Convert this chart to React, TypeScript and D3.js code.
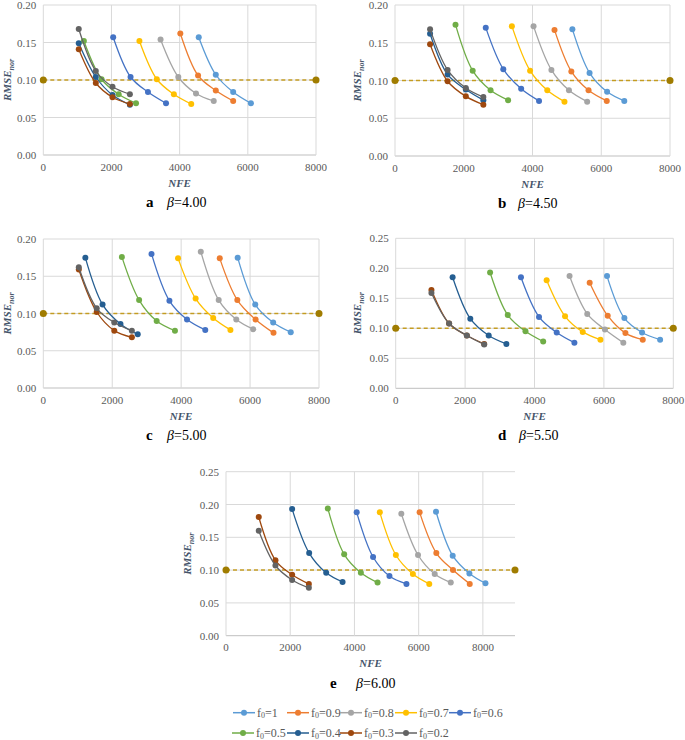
import React from "react";
import * as d3 from "d3";

const seriesLabels = ["1", "0.9", "0.8", "0.7", "0.6", "0.5", "0.4", "0.3", "0.2"];
const seriesColors = ["#5B9BD5", "#ED7D31", "#A5A5A5", "#FFC000", "#4472C4", "#70AD47", "#255E91", "#9E480E", "#636363"];

// Panel a (beta = 4.00)
const nfeA = [
  [4560, 5060, 5570, 6090], [4020, 4540, 5060, 5570], [3440, 3960, 4480, 5000],
  [2820, 3330, 3830, 4340], [2050, 2560, 3070, 3600], [1190, 1710, 2210, 2720],
  [1040, 1540, 2030, 2540], [1040, 1540, 2030, 2540], [1040, 1540, 2030, 2540],
];
const rmseA = [
  [0.157, 0.107, 0.084, 0.069], [0.162, 0.106, 0.086, 0.072], [0.154, 0.104, 0.082, 0.072],
  [0.152, 0.101, 0.081, 0.068], [0.157, 0.104, 0.084, 0.069], [0.152, 0.101, 0.081, 0.069],
  [0.149, 0.104, 0.080, 0.067], [0.141, 0.096, 0.077, 0.068], [0.168, 0.112, 0.091, 0.081],
];
// Panel b (beta = 4.50)
const nfeB = [
  [5160, 5660, 6170, 6670], [4640, 5130, 5630, 6160], [4030, 4550, 5060, 5590],
  [3400, 3930, 4430, 4930], [2640, 3150, 3670, 4190], [1760, 2260, 2780, 3290],
  [1020, 1530, 2060, 2570], [1020, 1530, 2060, 2570], [1020, 1530, 2060, 2570],
];
const rmseB = [
  [0.168, 0.110, 0.085, 0.073], [0.167, 0.112, 0.087, 0.073], [0.172, 0.114, 0.087, 0.072],
  [0.172, 0.113, 0.087, 0.072], [0.170, 0.115, 0.089, 0.073], [0.174, 0.113, 0.087, 0.074],
  [0.162, 0.108, 0.088, 0.074], [0.148, 0.099, 0.079, 0.068], [0.168, 0.114, 0.090, 0.078],
];
// Panel c (beta = 5.00)
const nfeC = [
  [5640, 6150, 6670, 7180], [5120, 5630, 6160, 6680], [4570, 5090, 5600, 6090],
  [3910, 4420, 4930, 5430], [3140, 3660, 4170, 4700], [2280, 2780, 3290, 3820],
  [1220, 1720, 2240, 2740], [1030, 1550, 2060, 2570], [1030, 1550, 2060, 2570],
];
const rmseC = [
  [0.175, 0.112, 0.088, 0.075], [0.174, 0.118, 0.092, 0.074], [0.183, 0.118, 0.092, 0.079],
  [0.174, 0.120, 0.094, 0.078], [0.180, 0.117, 0.092, 0.078], [0.176, 0.118, 0.090, 0.077],
  [0.175, 0.112, 0.086, 0.072], [0.159, 0.102, 0.077, 0.068], [0.162, 0.107, 0.088, 0.077],
];
// Panel d (beta = 5.50)
const nfeD = [
  [6090, 6590, 7100, 7620], [5590, 6110, 6620, 7120], [5010, 5520, 6030, 6560],
  [4350, 4880, 5390, 5900], [3610, 4130, 4640, 5150], [2720, 3230, 3740, 4250],
  [1640, 2150, 2680, 3190], [1030, 1540, 2050, 2550], [1030, 1540, 2050, 2550],
];
const rmseD = [
  [0.187, 0.117, 0.093, 0.081], [0.176, 0.121, 0.092, 0.081], [0.187, 0.124, 0.098, 0.076],
  [0.180, 0.120, 0.094, 0.081], [0.185, 0.119, 0.093, 0.076], [0.193, 0.122, 0.095, 0.078],
  [0.185, 0.116, 0.088, 0.074], [0.164, 0.108, 0.088, 0.074], [0.159, 0.108, 0.088, 0.073],
];
// Panel e (beta = 6.00)
const nfeE = [
  [6540, 7060, 7580, 8080], [6030, 6550, 7070, 7590], [5460, 5980, 6500, 7000],
  [4790, 5290, 5820, 6330], [4070, 4580, 5090, 5620], [3170, 3680, 4200, 4720],
  [2060, 2590, 3120, 3630], [1020, 1540, 2060, 2580], [1020, 1540, 2060, 2580],
];
const rmseE = [
  [0.189, 0.122, 0.095, 0.080], [0.188, 0.126, 0.100, 0.079], [0.186, 0.123, 0.094, 0.081],
  [0.188, 0.123, 0.094, 0.079], [0.188, 0.120, 0.091, 0.079], [0.194, 0.124, 0.096, 0.081],
  [0.193, 0.126, 0.096, 0.082], [0.181, 0.115, 0.093, 0.079], [0.160, 0.107, 0.085, 0.073],
];

const threshold = 0.1;
const xTicks = [0, 2000, 4000, 6000, 8000];

const FONT = "'Liberation Serif', 'Times New Roman', serif";
const AXIS_TITLE = "#44546A";
const TICK = "#595959";
const GRID = "#D9D9D9";

type PanelProps = {
  nfe: number[][];
  rmse: number[][];
  x0: number; x1: number; yTop: number; yBot: number;
  xMax: number; yMax: number;
  ylabX: number;
  letter: string; beta: string; letterX: number; betaX: number;
};

function Panel(p: PanelProps) {
  const x = d3.scaleLinear().domain([0, p.xMax]).range([p.x0, p.x1]);
  const y = d3.scaleLinear().domain([0, p.yMax]).range([p.yBot, p.yTop]);
  const yTicks = d3.range(0, p.yMax + 1e-9, 0.05);
  const line = d3.line<[number, number]>().x(d => x(d[0])).y(d => y(d[1])).curve(d3.curveCatmullRom.alpha(0.5));
  const fmt = d3.format(".2f");
  const midY = (p.yTop + p.yBot) / 2;
  return (
    <g>
      {yTicks.map(t => (
        <line key={"h" + t} x1={p.x0} x2={p.x1} y1={y(t)} y2={y(t)} stroke={t === 0 ? "#BFBFBF" : GRID} strokeWidth={1} />
      ))}
      {xTicks.map(t => (
        <line key={"v" + t} x1={x(t)} x2={x(t)} y1={p.yTop} y2={p.yBot} stroke={GRID} strokeWidth={1} />
      ))}
      {yTicks.map(t => (
        <text key={"yt" + t} x={p.x0 - 7} y={y(t) + 4} textAnchor="end" fontSize={11} fill={TICK} fontFamily={FONT}>{fmt(t)}</text>
      ))}
      {xTicks.map(t => (
        <text key={"xt" + t} x={x(t)} y={p.yBot + 15.5} textAnchor="middle" fontSize={11} fill={TICK} fontFamily={FONT}>{t}</text>
      ))}
      <text x={(p.x0 + p.x1) / 2} y={p.yBot + 31.5} textAnchor="middle" fontSize={11} fontStyle="italic" fontWeight="bold" fill={AXIS_TITLE} fontFamily={FONT}>NFE</text>
      <text transform={`translate(${p.ylabX + 4},${midY}) rotate(-90)`} textAnchor="middle" fontSize={11} fontStyle="italic" fontWeight="bold" fill={AXIS_TITLE} fontFamily={FONT}>
        RMSE<tspan fontSize={8} dy={3}>nor</tspan>
      </text>
      <line x1={x(0)} x2={x(p.xMax)} y1={y(threshold)} y2={y(threshold)} stroke="#BF9000" strokeOpacity={0.85} strokeWidth={1.5} strokeDasharray="4 3" />
      <circle cx={x(0)} cy={y(threshold)} r={3.5} fill="#A07C00" />
      <circle cx={x(p.xMax)} cy={y(threshold)} r={3.5} fill="#A07C00" />
      {p.nfe.map((xs, i) => {
        const pts: [number, number][] = xs.map((v, j) => [v, p.rmse[i][j]]);
        return (
          <g key={"s" + i}>
            <path d={line(pts) || ""} fill="none" stroke={seriesColors[i]} strokeWidth={1.3} />
            {pts.map((d, j) => (
              <circle key={j} cx={x(d[0])} cy={y(d[1])} r={3} fill={seriesColors[i]} />
            ))}
          </g>
        );
      })}
      <text y={p.yBot + 52} fontFamily={FONT} fill="#000">
        <tspan x={p.letterX} fontWeight="bold" fontSize={15}>{p.letter}</tspan>
        <tspan x={p.betaX} fontStyle="italic" fontSize={14}>β</tspan>
        <tspan fontSize={14}>={p.beta}</tspan>
      </text>
    </g>
  );
}

const legendRow1X = [233, 287, 340, 395, 449];
const legendRow2X = [232, 287, 340, 395];

export default function App() {
  return (
    <svg width={685} height={740} style={{ position: "absolute", left: 0, top: 0, background: "#fff" }}>
      <rect width={685} height={740} fill="#fff" />
      <Panel nfe={nfeA} rmse={rmseA} x0={43.3} x1={316} yTop={5} yBot={155} xMax={8000} yMax={0.2} ylabX={7} letter="a" beta="4.00" letterX={146} betaX={167} />
      <Panel nfe={nfeB} rmse={rmseB} x0={395} x1={670} yTop={5} yBot={156} xMax={8000} yMax={0.2} ylabX={357} letter="b" beta="4.50" letterX={498} betaX={518} />
      <Panel nfe={nfeC} rmse={rmseC} x0={43.3} x1={319} yTop={239} yBot={388} xMax={8000} yMax={0.2} ylabX={7} letter="c" beta="5.00" letterX={146} betaX={167} />
      <Panel nfe={nfeD} rmse={rmseD} x0={395.7} x1={673.3} yTop={238.3} yBot={388.3} xMax={8000} yMax={0.25} ylabX={357} letter="d" beta="5.50" letterX={498} betaX={519} />
      <Panel nfe={nfeE} rmse={rmseE} x0={226} x1={515} yTop={471.7} yBot={635.7} xMax={9000} yMax={0.25} ylabX={187} letter="e" beta="6.00" letterX={330} betaX={356} />
      {seriesLabels.map((lab, i) => {
        const row = i < 5 ? 0 : 1;
        const sx = row === 0 ? legendRow1X[i] : legendRow2X[i - 5];
        const cy = row === 0 ? 712.7 : 733;
        return (
          <g key={"lg" + i}>
            <line x1={sx} x2={sx + 22} y1={cy} y2={cy} stroke={seriesColors[i]} strokeWidth={1.5} />
            <circle cx={sx + 11} cy={cy} r={3} fill={seriesColors[i]} />
            <text x={sx + 24} y={cy + 4} fontSize={12} fill={TICK} fontFamily={FONT}>
              f<tspan fontSize={8} dy={1.5}>0</tspan><tspan dy={-1.5}>={lab}</tspan>
            </text>
          </g>
        );
      })}
    </svg>
  );
}
